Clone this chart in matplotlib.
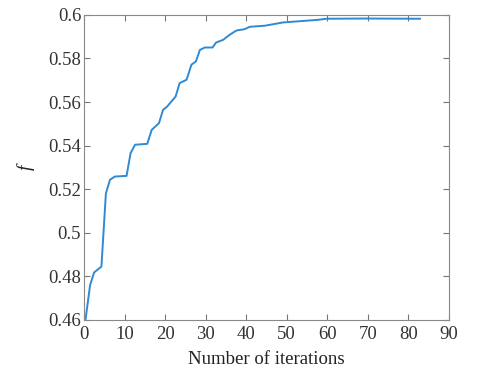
import matplotlib
matplotlib.use("Agg")
import matplotlib.pyplot as plt
from matplotlib.ticker import FuncFormatter

# convergence curve (iteration, f)
iters = [0.4, 1.5, 2.5, 4.3, 5.4, 6.4, 7.6, 10.5, 11.5, 12.6, 15.6, 16.7, 18.5,
         19.5, 20.5, 22.6, 23.6, 25.3, 26.5, 27.6, 28.6, 29.8, 31.7, 32.6, 34.3,
         35.9, 37.6, 39.6, 40.9, 44.6, 49.1, 57.7, 59.8, 69.6, 82.9]
f_vals = [0.4605, 0.476, 0.4818, 0.4845, 0.518, 0.5243, 0.5258, 0.5261, 0.5366,
          0.5404, 0.5408, 0.5472, 0.5503, 0.5564, 0.5579, 0.5625, 0.5687, 0.5702,
          0.5771, 0.5786, 0.5839, 0.585, 0.585, 0.5873, 0.5885, 0.5908, 0.5928,
          0.5934, 0.5945, 0.595, 0.5965, 0.5977, 0.5982, 0.5983, 0.5982]

xticks = list(range(0, 91, 10))
yticks = [0.46, 0.48, 0.5, 0.52, 0.54, 0.56, 0.58, 0.6]

plt.rcParams['font.family'] = ['Liberation Serif', 'DejaVu Serif']

fig = plt.figure(figsize=(4.8, 3.8), dpi=100)
ax = fig.add_axes([0.175, 0.158, 0.76, 0.803])

ax.plot(iters, f_vals, color='#2f8ad3', linewidth=1.4)

ax.set_xlim(0, 90)
ax.set_ylim(0.46, 0.6)
ax.set_xticks(xticks)
ax.set_yticks(yticks)
ax.yaxis.set_major_formatter(FuncFormatter(lambda v, p: '%g' % round(v, 2)))

ax.tick_params(direction='in', top=True, right=True, length=4, width=0.8,
               colors='#777777', labelcolor='#333333', labelsize=13.5)
ax.tick_params(axis='y', pad=2)
ax.tick_params(axis='x', pad=4)
for s in ax.spines.values():
    s.set_color('#888888')
    s.set_linewidth(0.8)

ax.set_xlabel('Number of iterations', fontsize=13.5, color='#222222', labelpad=6)
ax.set_ylabel('f', fontsize=14, style='italic', color='#222222', labelpad=10)

fig.savefig('out.png', dpi=100)
